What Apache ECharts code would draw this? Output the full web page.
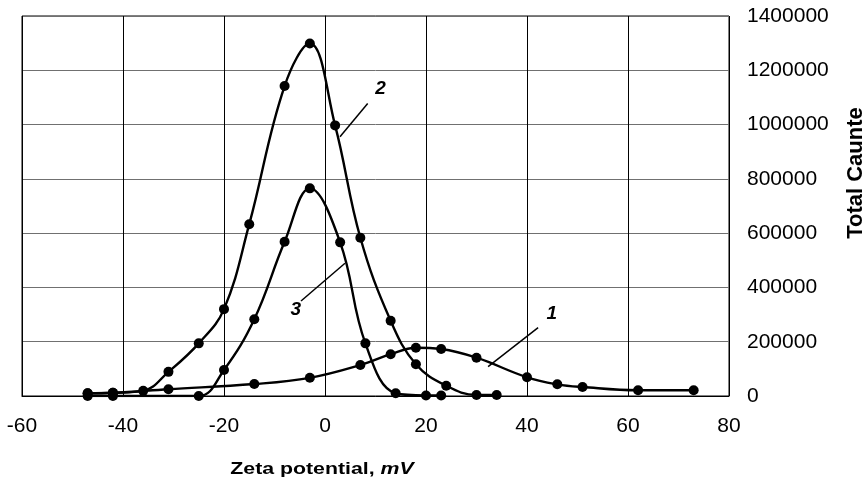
<!DOCTYPE html>
<html><head><meta charset="utf-8">
<script src="https://cdn.jsdelivr.net/npm/echarts@6/dist/echarts.min.js"></script>
<style>html,body{margin:0;padding:0;background:#fff}#c{width:867px;height:487px}</style>
</head><body><div id="c"></div>
<script>
// x-axis: zeta potential (mV), y-axis: total counts
const xMin = -60, xMax = 80, xStep = 20;
const yMin = 0, yMax = 1400000, yStep = 200000;

const curve1 = [[-47,10000],[-42,12000],[-31,25000],[-14,44000],[-3,67000],[7,114000],[13,154000],[18,178000],[23,173000],[30,141000],[40,69000],[46,43000],[51,33000],[62,21000],[73,21000]];
const curve2 = [[-47,10000],[-42,12000],[-36,19000],[-31,89000],[-25,194000],[-20,320000],[-15,633000],[-8,1142000],[-3,1299000],[2,997000],[7,583000],[13,277000],[18,117000],[24,38000],[30,4000],[34,4000]];
const curve3 = [[-47,0],[-42,0],[-25,0],[-20,96000],[-14,283000],[-8,568000],[-3,765000],[3,566000],[8,194000],[14,10000],[20,2000],[23,2000]];

const curveNames = ['1','2','3'];
const labelPos = [[44.9,302000],[11.0,1132000],[-5.8,316800]];
const leaderFrom = [[42.2,251600],[8.45,1078000],[-4.75,350000]];
const leaderTo = [[32.3,108000],[2.97,955000],[3.96,489000]];

const xTitle = 'Zeta potential, ';
const xTitleUnit = 'mV';
const yTitle = 'Total Caunte';

const FONT = '"Liberation Sans", Arial, sans-serif';
const chart = echarts.init(document.getElementById('c'), null, {renderer:'canvas'});

function mkSeries(data, i) {
  return {
    type: 'line', name: curveNames[i], data: data, smooth: 0.4,
    symbol: 'circle', symbolSize: 10, showSymbol: true,
    lineStyle: {color: '#000', width: 2.4}, itemStyle: {color: '#000'},
    z: 3, silent: true,
    markLine: {
      silent: true, symbol: ['none','none'],
      lineStyle: {color: '#000', width: 1.5, type: 'solid'},
      label: {show: false},
      data: [[{coord: leaderFrom[i]}, {coord: leaderTo[i]}]]
    },
    markPoint: {
      silent: true, symbol: 'circle', symbolSize: 1, itemStyle: {color: 'rgba(0,0,0,0)'},
      label: {show: true, position: 'inside', formatter: curveNames[i], color: '#000',
        fontFamily: FONT, fontSize: 19, fontWeight: 'bold', fontStyle: 'italic'},
      data: [{coord: labelPos[i]}]
    }
  };
}

chart.setOption({
  animation: false,
  backgroundColor: '#fff',
  grid: {left: 22, top: 16, right: 138, bottom: 91, show: true, borderColor: '#000', borderWidth: 1, containLabel: false},
  xAxis: {
    type: 'value', min: xMin, max: xMax, interval: xStep,
    axisLine: {show: true, onZero: false, lineStyle: {color: '#000', width: 1}},
    axisTick: {show: false},
    axisLabel: {color: '#000', fontFamily: FONT, fontSize: 21, margin: 20},
    splitLine: {show: true, lineStyle: {color: '#000', width: 1}}
  },
  yAxis: {
    type: 'value', position: 'right', min: yMin, max: yMax, interval: yStep,
    axisLine: {show: true, lineStyle: {color: '#000', width: 1}},
    axisTick: {show: false},
    axisLabel: {color: '#000', fontFamily: FONT, fontSize: 21, margin: 18, formatter: v => String(v)},
    splitLine: {show: true, lineStyle: {color: '#707070', width: 1}}
  },
  series: [mkSeries(curve1,0), mkSeries(curve2,1), mkSeries(curve3,2)],
  graphic: [
    {type: 'text', x: 322, y: 470, scaleX: 1.33, silent: true,
      style: {text: '{b|' + xTitle + '}{bi|' + xTitleUnit + '}', align: 'center', verticalAlign: 'middle',
        rich: {
          b: {fontFamily: FONT, fontSize: 16, fontWeight: 'bold', fill: '#000', color: '#000'},
          bi: {fontFamily: FONT, fontSize: 16, fontWeight: 'bold', fontStyle: 'italic', fill: '#000', color: '#000'}
        }}},
    {type: 'text', x: 856, y: 173, rotation: Math.PI/2, silent: true,
      style: {text: yTitle, align: 'center', verticalAlign: 'middle', fontFamily: FONT, fontSize: 22, fontWeight: 'bold', fill: '#000'}}
  ]
});
</script></body></html>
